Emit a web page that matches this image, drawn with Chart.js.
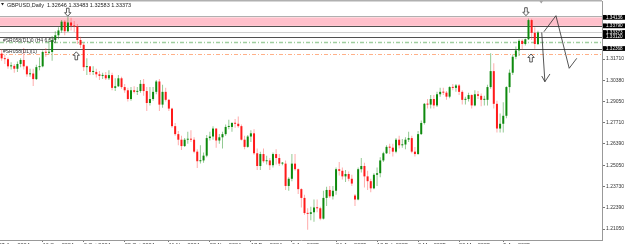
<!DOCTYPE html>
<html>
<head>
<meta charset="utf-8">
<script src="https://cdn.jsdelivr.net/npm/chart.js@4.4.1/dist/chart.umd.min.js"></script>
<style>
  html, body { margin: 0; padding: 0; background: #fff; }
</style>
</head>
<body>
<canvas id="chart" width="625" height="244"></canvas>
<script>
// GBPUSD daily, 27 Aug 2024 .. 24 Apr 2025 (one bar per trading day)
const opens = [
  1.3225,1.3205,1.3175,1.3170,1.3125,1.3128,1.3110,1.3140,1.3165,1.3125,
  1.3075,1.3080,1.3045,1.3120,1.3125,1.3215,1.3210,1.3215,1.3290,1.3320,
  1.3350,1.3405,1.3345,1.3400,1.3380,1.3375,1.3290,1.3260,1.3120,1.3125,
  1.3090,1.3090,1.3075,1.3065,1.3070,1.3050,1.3070,1.2990,1.3000,1.3050,
  1.2995,1.2975,1.2920,1.2975,1.2965,1.2970,1.3015,1.2970,1.2895,1.2920,
  1.2965,1.3030,1.2885,1.2965,1.2915,1.2860,1.2750,1.2700,1.2665,1.2625,
  1.2665,1.2670,1.2665,1.2590,1.2530,1.2535,1.2565,1.2675,1.2685,1.2735,
  1.2660,1.2680,1.2700,1.2745,1.2745,1.2770,1.2765,1.2750,1.2665,1.2620,
  1.2685,1.2705,1.2580,1.2500,1.2575,1.2530,1.2535,1.2505,1.2575,1.2550,
  1.2515,1.2515,1.2375,1.2420,1.2515,1.2480,1.2355,1.2300,1.2205,1.2200,
  1.2210,1.2240,1.2235,1.2170,1.2300,1.2350,1.2310,1.2345,1.2480,1.2470,
  1.2435,1.2450,1.2420,1.2315,1.2290,1.2480,1.2500,1.2435,1.2405,1.2360,
  1.2445,1.2455,1.2535,1.2580,1.2620,1.2615,1.2590,1.2665,1.2630,1.2635,
  1.2665,1.2675,1.2590,1.2575,1.2700,1.2770,1.2890,1.2885,1.2920,1.2880,
  1.2950,1.2965,1.2960,1.2935,1.2995,1.2990,1.3005,1.2965,1.2915,1.2920,
  1.2945,1.2880,1.2950,1.2940,1.2915,1.2915,1.2995,1.3095,1.2890,1.2735,
  1.2765,1.2815,1.2995,1.3085,1.3185,1.3225,1.3285,1.3265,1.3295,1.3415,
  1.3335,1.32646
];
const highs = [
  1.3266,1.3230,1.3200,1.3180,1.3150,1.3140,1.3155,1.3175,1.3240,1.3130,
  1.3110,1.3110,1.3135,1.3180,1.3225,1.3240,1.3297,1.3315,1.3345,1.3370,
  1.3415,1.3415,1.3434,1.3430,1.3410,1.3390,1.3310,1.3270,1.3175,1.3125,
  1.3125,1.3110,1.3095,1.3085,1.3090,1.3100,1.3085,1.3050,1.3070,1.3060,
  1.3015,1.2990,1.2995,1.3000,1.2995,1.3040,1.3045,1.2995,1.2995,1.2995,
  1.3040,1.3045,1.3010,1.2990,1.2920,1.2865,1.2770,1.2720,1.2690,1.2675,
  1.2715,1.2725,1.2680,1.2605,1.2630,1.2585,1.2695,1.2715,1.2750,1.2735,
  1.2700,1.2715,1.2760,1.2790,1.2775,1.2795,1.2810,1.2760,1.2690,1.2695,
  1.2725,1.2730,1.2610,1.2590,1.2610,1.2565,1.2550,1.2585,1.2605,1.2575,
  1.2525,1.2535,1.2430,1.2575,1.2575,1.2485,1.2360,1.2320,1.2235,1.2245,
  1.2290,1.2290,1.2245,1.2345,1.2370,1.2375,1.2375,1.2490,1.2525,1.2490,
  1.2475,1.2465,1.2445,1.2325,1.2490,1.2550,1.2520,1.2470,1.2420,1.2455,
  1.2490,1.2555,1.2590,1.2630,1.2640,1.2640,1.2675,1.2690,1.2670,1.2680,
  1.2715,1.2690,1.2620,1.2720,1.2785,1.2895,1.2920,1.2945,1.2945,1.2965,
  1.2990,1.2990,1.2970,1.3000,1.3015,1.3015,1.3015,1.2975,1.2935,1.2960,
  1.2950,1.2975,1.2970,1.2955,1.2940,1.3010,1.3207,1.3145,1.2910,1.2830,
  1.2900,1.3000,1.3105,1.3200,1.3250,1.3295,1.3295,1.3300,1.3425,1.3423,
  1.3370,1.33483
];
const lows = [
  1.3195,1.3160,1.3140,1.3110,1.3105,1.3085,1.3090,1.3120,1.3105,1.3060,
  1.3060,1.3002,1.3040,1.3100,1.3120,1.3185,1.3200,1.3160,1.3270,1.3295,
  1.3335,1.3320,1.3340,1.3350,1.3340,1.3265,1.3240,1.3095,1.3070,1.3070,
  1.3070,1.3055,1.3040,1.3045,1.3040,1.3040,1.2975,1.2970,1.2995,1.2985,
  1.2960,1.2905,1.2910,1.2955,1.2945,1.2960,1.2940,1.2845,1.2880,1.2910,
  1.2950,1.2845,1.2865,1.2905,1.2845,1.2740,1.2690,1.2630,1.2600,1.2620,
  1.2640,1.2650,1.2580,1.2487,1.2515,1.2520,1.2555,1.2660,1.2665,1.2615,
  1.2640,1.2610,1.2690,1.2730,1.2715,1.2740,1.2740,1.2660,1.2605,1.2615,
  1.2650,1.2570,1.2475,1.2475,1.2520,1.2510,1.2475,1.2490,1.2510,1.2500,
  1.2505,1.2350,1.2345,1.2405,1.2470,1.2325,1.2240,1.2195,1.2100,1.2160,
  1.2150,1.2210,1.2160,1.2165,1.2250,1.2300,1.2290,1.2320,1.2440,1.2415,
  1.2400,1.2405,1.2375,1.2250,1.2285,1.2460,1.2365,1.2350,1.2335,1.2355,
  1.2375,1.2430,1.2525,1.2575,1.2575,1.2560,1.2580,1.2610,1.2615,1.2605,
  1.2650,1.2580,1.2560,1.2570,1.2695,1.2760,1.2860,1.2860,1.2860,1.2870,
  1.2935,1.2945,1.2915,1.2925,1.2975,1.2965,1.2945,1.2885,1.2885,1.2905,
  1.2860,1.2875,1.2920,1.2875,1.2880,1.2880,1.2985,1.2860,1.2710,1.2710,
  1.2710,1.2800,1.2960,1.3070,1.3170,1.3190,1.3230,1.3255,1.3290,1.3290,
  1.3235,1.32583
];
const closes = [
  1.3205,1.3175,1.3170,1.3125,1.3128,1.3110,1.3140,1.3165,1.3125,1.3075,
  1.3080,1.3045,1.3120,1.3125,1.3215,1.3210,1.3215,1.3290,1.3320,1.3350,
  1.3405,1.3345,1.3400,1.3380,1.3375,1.3290,1.3260,1.3120,1.3125,1.3090,
  1.3090,1.3075,1.3065,1.3070,1.3050,1.3070,1.2990,1.3000,1.3050,1.2995,
  1.2975,1.2920,1.2975,1.2965,1.2970,1.3015,1.2970,1.2895,1.2920,1.2965,
  1.3030,1.2885,1.2965,1.2915,1.2860,1.2750,1.2700,1.2665,1.2625,1.2665,
  1.2670,1.2665,1.2590,1.2530,1.2535,1.2565,1.2675,1.2685,1.2735,1.2660,
  1.2680,1.2700,1.2745,1.2745,1.2770,1.2765,1.2750,1.2665,1.2620,1.2685,
  1.2705,1.2580,1.2500,1.2575,1.2530,1.2535,1.2505,1.2575,1.2550,1.2515,
  1.2515,1.2375,1.2420,1.2515,1.2480,1.2355,1.2300,1.2205,1.2200,1.2210,
  1.2240,1.2235,1.2170,1.2300,1.2350,1.2310,1.2345,1.2480,1.2470,1.2435,
  1.2450,1.2420,1.2390,1.2290,1.2480,1.2500,1.2435,1.2405,1.2360,1.2445,
  1.2455,1.2535,1.2580,1.2620,1.2615,1.2590,1.2665,1.2630,1.2635,1.2665,
  1.2675,1.2590,1.2575,1.2700,1.2770,1.2890,1.2885,1.2920,1.2880,1.2950,
  1.2965,1.2960,1.2935,1.2995,1.2990,1.3005,1.2965,1.2915,1.2920,1.2945,
  1.2880,1.2950,1.2940,1.2915,1.2915,1.2995,1.3095,1.2890,1.2735,1.2765,
  1.2815,1.2995,1.3085,1.3185,1.3225,1.3285,1.3265,1.3295,1.3415,1.3335,
  1.3265,1.33373
];

// axis labels
const yTickValues = [1.31710, 1.30380, 1.29050, 1.27710, 1.26390, 1.25050, 1.23730, 1.22390, 1.21050];
const xTickBars = [0, 14, 27, 40, 54, 67, 80, 93, 107, 120, 133, 146, 160];
const xTickLabels = ['27 Aug 2024', '16 Sep 2024', '3 Oct 2024', '22 Oct 2024', '11 Nov 2024', '28 Nov 2024',
  '17 Dec 2024', '6 Jan 2025', '24 Jan 2025', '12 Feb 2025', '3 Mar 2025', '20 Mar 2025', '9 Apr 2025'];

// drawn objects on the chart (prices)
const zoneTop = 1.3432;
const zoneBottom = 1.3379;
const solidLevels = [1.33790, 1.33120, 1.32368];
const bidPrice = 1.33373;
const greenLevel = 1.3276;
const orangeLevel = 1.3202;
const tagValues = [1.3432, 1.33790, 1.33373, 1.33120, 1.32368];
const tagTexts = ['1.34136', '1.33790', '1.33373', '1.33120', '1.32368'];
const title = 'GBPUSD,Daily  1.32646 1.33483 1.32583 1.33373';

// hollow arrows [bar, price, pointing down?]
const markBars = [21.96, 24.66, 167.2, 168.8];
const markPrices = [1.34645, 1.31911, 1.34676, 1.31773];
const markDown = [true, false, true, false];

// hand drawn arrows, as [bar, price] points
const strokes = [
  [[172.9, 1.33422], [176.7, 1.34425], [180.9, 1.31127], [183.3, 1.31754]],
  [[172.2, 1.33372], [173.2, 1.30287]],
  [[172.2, 1.30644], [173.2, 1.30287], [174.8, 1.30770]]
];

const bullBody = '#0e8a0e';
const bearBody = '#ff1a1a';
const bullWick = 'rgba(40,150,40,0.5)';
const bearWick = 'rgba(255,70,70,0.45)';

Chart.defaults.font.family = '"Liberation Sans", Arial, sans-serif';

const bars = opens.map((_, i) => i);
const isBull = i => closes[i] >= opens[i];

function hline(ctx, a, py, color, w, dash) {
  const yy = Math.round(py) + 0.5;
  ctx.beginPath();
  ctx.setLineDash(dash);
  ctx.strokeStyle = color;
  ctx.lineWidth = w;
  ctx.moveTo(a.left, yy);
  ctx.lineTo(a.right, yy);
  ctx.stroke();
}

function hollowArrow(ctx, x, y, down) {
  const s = down ? 1 : -1;
  ctx.beginPath();
  ctx.moveTo(x - 1.3, y - 4 * s);
  ctx.lineTo(x + 1.3, y - 4 * s);
  ctx.lineTo(x + 1.3, y + 0.5 * s);
  ctx.lineTo(x + 3.2, y + 0.5 * s);
  ctx.lineTo(x, y + 4 * s);
  ctx.lineTo(x - 3.2, y + 0.5 * s);
  ctx.lineTo(x - 1.3, y + 0.5 * s);
  ctx.closePath();
  ctx.fillStyle = '#fff';
  ctx.fill();
  ctx.strokeStyle = '#333';
  ctx.lineWidth = 0.8;
  ctx.stroke();
}

const overlay = {
  id: 'overlay',
  beforeDatasetsDraw(chart) {
    const { ctx, chartArea: a, scales: { y } } = chart;
    ctx.save();
    const t = y.getPixelForValue(zoneTop);
    const b = y.getPixelForValue(zoneBottom);
    ctx.fillStyle = '#ffc0cb';
    ctx.fillRect(a.left, t, a.right - a.left, b - t);
    hline(ctx, a, t - 1, '#b0b0b0', 1, []);
    solidLevels.forEach(v => hline(ctx, a, y.getPixelForValue(v), '#505050', 1, []));
    hline(ctx, a, y.getPixelForValue(bidPrice), '#cfcfcf', 1, []);
    hline(ctx, a, y.getPixelForValue(greenLevel), 'rgba(120,185,120,0.7)', 1.5, [4, 2, 1, 2]);
    hline(ctx, a, y.getPixelForValue(orangeLevel), '#ffb088', 1, [4, 2, 1, 2]);
    ctx.restore();
  },
  afterDatasetsDraw(chart) {
    const { ctx, chartArea: a, scales: { x, y } } = chart;
    ctx.save();
    ctx.setLineDash([]);

    // title
    ctx.fillStyle = '#222';
    ctx.beginPath();
    ctx.moveTo(1, 3); ctx.lineTo(4, 3); ctx.lineTo(2.5, 5.5); ctx.closePath();
    ctx.fill();
    ctx.font = '5.5px "Liberation Sans"';
    ctx.textBaseline = 'alphabetic';
    ctx.fillText(title, 7, 7);

    // object descriptions
    ctx.font = '5px "Liberation Sans"';
    ctx.fillStyle = '#333';
    ctx.fillText('#SR058(D1)0 (H4 6.53)', 3, 41.5);
    ctx.fillText('#SR058(D1)(1)', 3, 53);

    // hollow arrows
    markBars.forEach((bar, i) => {
      hollowArrow(ctx, x.getPixelForValue(bar), y.getPixelForValue(markPrices[i]), markDown[i]);
    });

    // hand drawn arrows
    ctx.strokeStyle = '#2a2a2a';
    ctx.lineWidth = 0.8;
    strokes.forEach(pts => {
      ctx.beginPath();
      pts.forEach(([bar, p], k) => {
        const px = x.getPixelForValue(bar), py = y.getPixelForValue(p);
        if (k === 0) ctx.moveTo(px, py); else ctx.lineTo(px, py);
      });
      ctx.stroke();
    });

    // chart shift marker
    ctx.fillStyle = '#9a9a9a';
    ctx.beginPath();
    ctx.moveTo(539.5, 1); ctx.lineTo(543, 1); ctx.lineTo(541.2, 3.5); ctx.closePath();
    ctx.fill();
    ctx.restore();
  },
  afterDraw(chart) {
    const { ctx, chartArea: a, scales: { y } } = chart;
    ctx.save();
    // top border
    ctx.strokeStyle = '#b0b0b0';
    ctx.lineWidth = 1.5;
    ctx.beginPath();
    ctx.moveTo(0, 0.75); ctx.lineTo(a.right, 0.75);
    ctx.stroke();
    // price tags
    ctx.font = '4.6px "Liberation Sans"';
    ctx.textBaseline = 'middle';
    tagValues.forEach((v, i) => {
      const py = y.getPixelForValue(v);
      ctx.fillStyle = '#000';
      ctx.fillRect(a.right + 1, py - 2.4, 22, 4.8);
      ctx.fillStyle = '#fff';
      ctx.fillText(tagTexts[i], a.right + 4, py);
    });
    ctx.restore();
  }
};

new Chart(document.getElementById('chart'), {
  type: 'bar',
  data: {
    datasets: [
      {
        label: 'body',
        data: bars.map(i => ({ x: i, y: [opens[i], closes[i]] })),
        backgroundColor: ctx => isBull(ctx.dataIndex) ? bullBody : bearBody,
        barThickness: 2,
        minBarLength: 1,
        grouped: false,
        inflateAmount: 0,
        order: 0
      },
      {
        label: 'wick',
        data: bars.map(i => ({ x: i, y: [lows[i], highs[i]] })),
        backgroundColor: ctx => isBull(ctx.dataIndex) ? bullWick : bearWick,
        barThickness: 1,
        grouped: false,
        inflateAmount: 0,
        order: 1
      }
    ]
  },
  options: {
    responsive: false,
    devicePixelRatio: 1,
    animation: false,
    layout: { padding: { top: 1, left: 0, right: 0, bottom: 0 } },
    plugins: { legend: { display: false }, tooltip: { enabled: false } },
    scales: {
      x: {
        type: 'linear',
        min: 0.475,
        max: 191.3,
        offset: false,
        afterBuildTicks: s => { s.ticks = xTickBars.map(v => ({ value: v })); },
        ticks: {
          callback: v => xTickLabels[xTickBars.indexOf(v)] || '',
          align: 'start',
          autoSkip: false,
          maxRotation: 0,
          padding: 0,
          color: '#333',
          font: { size: 5.5 }
        },
        grid: { drawOnChartArea: false, offset: false, tickLength: 2, color: '#777' },
        border: { color: '#999' },
        afterFit: s => { s.height = 4; s.paddingLeft = 0; s.paddingRight = 0; }
      },
      y: {
        position: 'right',
        min: 1.20361,
        max: 1.35347,
        afterBuildTicks: s => { s.ticks = yTickValues.map(v => ({ value: v })); },
        ticks: {
          callback: v => v.toFixed(5),
          padding: 1,
          color: '#333',
          font: { size: 5 }
        },
        grid: { drawOnChartArea: false, tickLength: 3, color: '#777' },
        border: { color: '#999' },
        afterFit: s => { s.width = 23; s.paddingTop = 0; s.paddingBottom = 0; }
      }
    }
  },
  plugins: [overlay]
});
</script>
</body>
</html>
